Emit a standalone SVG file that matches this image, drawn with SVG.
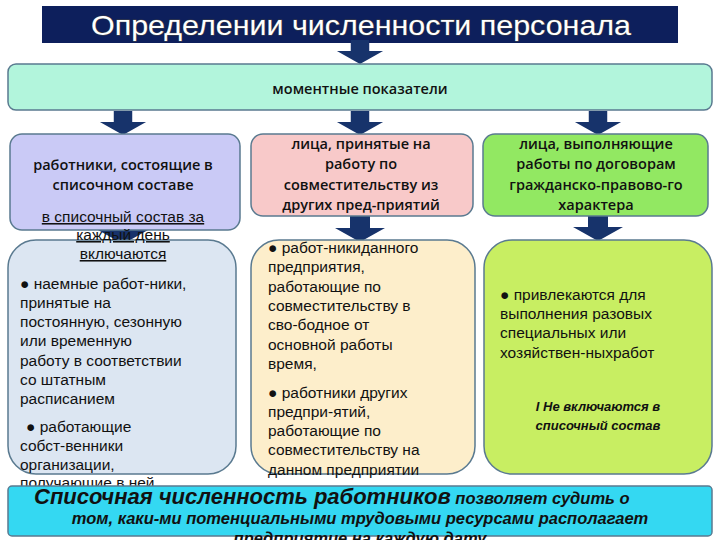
<svg xmlns="http://www.w3.org/2000/svg" width="720" height="540" viewBox="0 0 720 540">
<defs>
<style>
.h{font-family:"Open Sans","Liberation Sans",sans-serif;font-size:14.5px;font-weight:600;fill:#111;text-anchor:middle}
.b{font-family:"Liberation Sans",Arial,sans-serif;font-size:15.5px;fill:#111}
.box{stroke:#5a7a90;stroke-width:1.5}
.arr{fill:#17336b}
.bi{font-family:"Liberation Sans",Arial,sans-serif;font-style:italic;fill:#111}
</style>
<symbol id="ar" viewBox="0 0 50 26"><path class="arr" d="M15 0H35V12H50L25 26L0 12H15Z"/></symbol>
</defs>
<rect width="720" height="540" fill="#fff"/>
<g id="title">
<rect x="42" y="6" width="636" height="37" fill="#0d1f5c"/>
<text x="361" y="35" font-family="Liberation Sans,Arial,sans-serif" font-size="28" fill="#fff" text-anchor="middle" textLength="540" lengthAdjust="spacingAndGlyphs" style="paint-order:stroke" stroke="#444" stroke-width="1">Определении численности персонала</text>
</g>
<g id="connectors">
<use href="#ar" x="335" y="40" width="50" height="24"/>
<use href="#ar" x="98" y="111" width="50" height="24"/>
<use href="#ar" x="335" y="111" width="50" height="24"/>
<use href="#ar" x="573" y="111" width="50" height="24"/>
<use href="#ar" x="98" y="218" width="50" height="26"/>
<use href="#ar" x="335" y="215" width="50" height="28"/>
<use href="#ar" x="573" y="215" width="50" height="26"/>
</g>
<g id="top">
<rect class="box" x="8" y="64" width="704" height="46" rx="8" fill="#b2f5dc"/>
<text class="h" x="360" y="94" font-size="17">моментные показатели</text>
</g>
<g id="n1">
<rect class="box" x="10" y="134" width="230" height="96" rx="12" fill="#cacaf6"/>
<text class="h" x="123" y="170">работники, состоящие в</text>
<text class="h" x="123" y="190">списочном составе</text>
</g>
<g id="n2">
<rect class="box" x="251" y="134" width="222" height="82" rx="12" fill="#f8c9c9"/>
<text class="h" x="361" y="149">лица, принятые на</text>
<text class="h" x="361" y="169">работу по</text>
<text class="h" x="361" y="190">совместительству из</text>
<text class="h" x="361" y="210">других пред-приятий</text>
</g>
<g id="n3">
<rect class="box" x="483" y="134" width="225" height="82" rx="12" fill="#92e862"/>
<text class="h" x="596" y="149">лица, выполняющие</text>
<text class="h" x="596" y="169">работы по договорам</text>
<text class="h" x="596" y="190">гражданско-правово-го</text>
<text class="h" x="596" y="210">характера</text>
</g>
<g id="n4">
<rect class="box" x="8" y="240" width="228" height="234" rx="28" fill="#dce6f2"/>
<g class="b" text-anchor="middle" text-decoration="underline" font-size="14.5">
<text x="123" y="222">в списочный состав за</text>
<text x="123" y="240">каждый день</text>
<text x="123" y="259">включаются</text>
</g>
<g class="b">
<text x="20" y="289">● наемные работ-ники,</text>
<text x="20" y="308">принятые на</text>
<text x="20" y="327">постоянную, сезонную</text>
<text x="20" y="346">или временную</text>
<text x="20" y="366">работу в соответствии</text>
<text x="20" y="385">со штатным</text>
<text x="20" y="404">расписанием</text>
<text x="26" y="432">● работающие</text>
<text x="20" y="451">собст-венники</text>
<text x="20" y="470">организации,</text>
<text x="20" y="488">получающие в ней</text>
</g>
</g>
<g id="n5">
<rect class="box" x="251" y="240" width="224" height="234" rx="28" fill="#fdeecb"/>
<g class="b">
<text x="268" y="253">● работ-никиданного</text>
<text x="268" y="272">предприятия,</text>
<text x="268" y="292">работающие по</text>
<text x="268" y="311">совместительству в</text>
<text x="268" y="330">сво-бодное от</text>
<text x="268" y="350">основной работы</text>
<text x="268" y="369">время,</text>
<text x="268" y="398">● работники других</text>
<text x="268" y="417">предпри-ятий,</text>
<text x="268" y="436">работающие по</text>
<text x="268" y="455">совместительству на</text>
<text x="268" y="475">данном предприятии</text>
</g>
</g>
<g id="n6">
<rect class="box" x="484" y="240" width="228" height="234" rx="28" fill="#c8ee62"/>
<g class="b">
<text x="500" y="300">● привлекаются для</text>
<text x="500" y="319">выполнения разовых</text>
<text x="500" y="338">специальных или</text>
<text x="500" y="358">хозяйствен-ныхработ</text>
</g>
<text class="bi" x="598" y="411" font-size="13" font-weight="bold" text-anchor="middle">I Не включаются в</text>
<text class="bi" x="598" y="430" font-size="13" font-weight="bold" text-anchor="middle">списочный состав</text>
</g>
<g id="bottom">
<rect class="box" x="8" y="486" width="704" height="50" rx="4" fill="#34d8f2"/>
<text class="bi" x="34" y="504" font-weight="bold"><tspan font-size="22">Списочная численность работников</tspan><tspan font-size="16.5"> позволяет судить о</tspan></text>
<text class="bi" x="360" y="524" font-size="16.5" font-weight="bold" text-anchor="middle">том, каки-ми потенциальными трудовыми ресурсами располагает</text>
<text class="bi" x="360" y="544" font-size="16.5" font-weight="bold" text-anchor="middle">предприятие на каждую дату</text>
</g>
</svg>
